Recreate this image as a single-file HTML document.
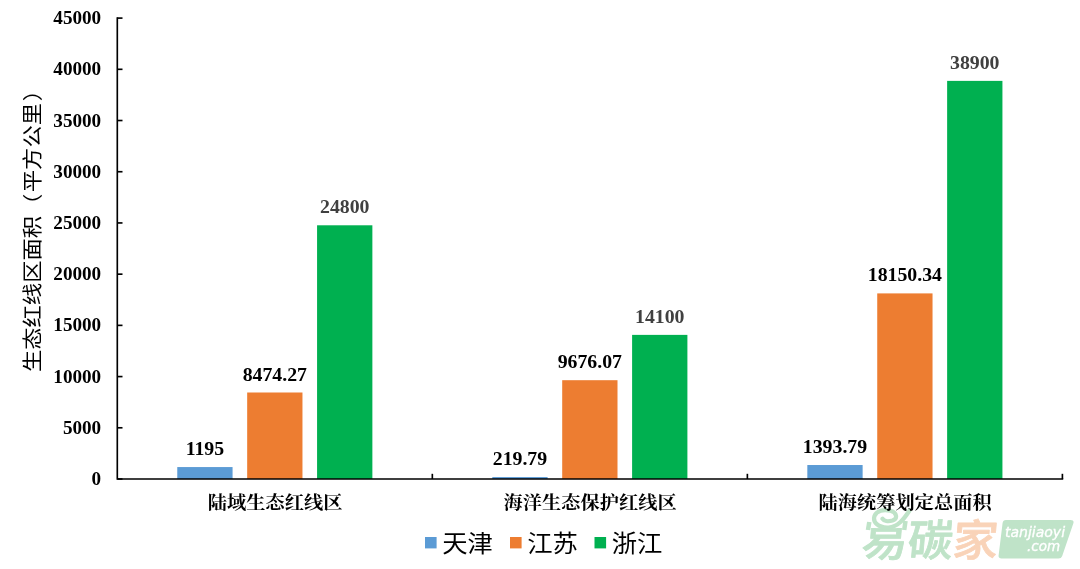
<!DOCTYPE html>
<html lang="zh-CN"><head><meta charset="utf-8"><title>生态红线区面积</title>
<style>
html,body{margin:0;padding:0;background:#fff;}
body{width:1080px;height:569px;overflow:hidden;position:relative;}
svg{position:absolute;left:0;top:0;display:block;}
.num{font-family:"Liberation Serif",serif;font-weight:bold;font-size:19.15px;}
.val{font-family:"Liberation Serif",serif;font-weight:bold;font-size:19.8px;}
.cat{font-family:"Liberation Serif","Noto Serif CJK SC",serif;font-weight:bold;font-size:19.25px;}
.leg{font-family:"Liberation Sans","Noto Sans CJK SC",sans-serif;font-size:25px;}
.ttl{font-family:"Liberation Sans","Noto Sans CJK SC",sans-serif;font-size:22.3px;}
.wm{font-family:"Liberation Sans","Noto Sans CJK SC",sans-serif;font-weight:500;font-size:43.5px;stroke-width:0.8;stroke-linejoin:round;}
.wt{font-family:"DejaVu Sans","Liberation Sans",sans-serif;font-style:oblique;fill:#fff;stroke:#fff;stroke-width:0.35;}
</style></head><body>
<svg width="1080" height="569" viewBox="0 0 1080 569">
<rect width="1080" height="569" fill="#fff"/>
<g id="watermark">
<defs><clipPath id="yiclip"><rect x="850" y="528" width="70" height="41"/></clipPath></defs>
<g transform="translate(0 558) skewX(-5) translate(0 -558)">
<g clip-path="url(#yiclip)"><text class="wm" x="860.5" y="556" fill="#bfe3c8" stroke="#bfe3c8" textLength="46" lengthAdjust="spacingAndGlyphs">易</text></g>
<text class="wm" x="906.5" y="556" fill="#bfe3c8" stroke="#bfe3c8" textLength="45" lengthAdjust="spacingAndGlyphs">碳</text>
<text class="wm" x="951.5" y="556" fill="#f9d3b8" stroke="#f9d3b8" textLength="45" lengthAdjust="spacingAndGlyphs">家</text>
</g>
<path d="M909.5 510.5 C904 519 898 527 888.5 527.5 C878 528 872.5 522 874.5 516 C876.5 510.5 884 509 890.5 510.8 C897 512.8 898 518.5 892.5 520.5 C888 522 884 521 882.5 518.8" fill="none" stroke="#bfe3c8" stroke-width="4.2" stroke-linecap="round"/>
<path d="M869.3 522 L868 530" fill="none" stroke="#bfe3c8" stroke-width="4.5"/>
<path d="M905.5 521 L904.2 530" fill="none" stroke="#bfe3c8" stroke-width="4.5"/>
<path d="M1006 520 H1070.5 Q1074.5 520 1073.3 523.5 L1062.2 556 Q1061.3 558.5 1058.5 558.5 H1001.5 Q998.2 558.5 998.6 555.5 L1002.6 523 Q1003 520 1006 520 Z" fill="#bfe3c8"/>
<text class="wt" x="1005" y="536.5" font-size="14">tanjiaoyi</text>
<text class="wt" x="1027" y="550.5" font-size="13.5">.com</text>
</g>
<g id="bars">
<rect x="177.27" y="467.06" width="55.30" height="11.94" fill="#5b9bd5"/>
<text class="val" x="204.92" y="455.06" text-anchor="middle" fill="#000">1195</text>
<rect x="247.17" y="392.50" width="55.30" height="86.50" fill="#ed7d31"/>
<text class="val" x="274.82" y="380.50" text-anchor="middle" fill="#000">8474.27</text>
<rect x="317.07" y="225.29" width="55.30" height="253.71" fill="#00b050"/>
<text class="val" x="344.72" y="213.29" text-anchor="middle" fill="#404040">24800</text>
<rect x="492.30" y="477.05" width="55.30" height="1.95" fill="#5b9bd5"/>
<text class="val" x="519.95" y="465.05" text-anchor="middle" fill="#000">219.79</text>
<rect x="562.20" y="380.20" width="55.30" height="98.80" fill="#ed7d31"/>
<text class="val" x="589.85" y="368.20" text-anchor="middle" fill="#000">9676.07</text>
<rect x="632.10" y="334.88" width="55.30" height="144.12" fill="#00b050"/>
<text class="val" x="659.75" y="322.88" text-anchor="middle" fill="#404040">14100</text>
<rect x="807.33" y="465.02" width="55.30" height="13.98" fill="#5b9bd5"/>
<text class="val" x="834.98" y="453.02" text-anchor="middle" fill="#000">1393.79</text>
<rect x="877.23" y="293.40" width="55.30" height="185.60" fill="#ed7d31"/>
<text class="val" x="904.88" y="281.40" text-anchor="middle" fill="#000">18150.34</text>
<rect x="947.13" y="80.88" width="55.30" height="398.12" fill="#00b050"/>
<text class="val" x="974.78" y="68.88" text-anchor="middle" fill="#404040">38900</text>
</g>
<g id="axes" stroke="#000" stroke-width="1.65" fill="none">
<path d="M117.30 17.28 V479.00 H1063.22"/>
<path d="M117.30 479.00 H122.50"/>
<path d="M117.30 427.79 H122.50"/>
<path d="M117.30 376.58 H122.50"/>
<path d="M117.30 325.37 H122.50"/>
<path d="M117.30 274.16 H122.50"/>
<path d="M117.30 222.94 H122.50"/>
<path d="M117.30 171.73 H122.50"/>
<path d="M117.30 120.52 H122.50"/>
<path d="M117.30 69.31 H122.50"/>
<path d="M117.30 18.10 H122.50"/>
<path d="M432.33 479.00 V473.80"/>
<path d="M747.37 479.00 V473.80"/>
<path d="M1062.40 479.00 V473.80"/>
</g>
<g id="ylabels">
<text class="num" x="101.2" y="485.10" text-anchor="end">0</text>
<text class="num" x="101.2" y="433.89" text-anchor="end">5000</text>
<text class="num" x="101.2" y="382.68" text-anchor="end">10000</text>
<text class="num" x="101.2" y="331.47" text-anchor="end">15000</text>
<text class="num" x="101.2" y="280.26" text-anchor="end">20000</text>
<text class="num" x="101.2" y="229.04" text-anchor="end">25000</text>
<text class="num" x="101.2" y="177.83" text-anchor="end">30000</text>
<text class="num" x="101.2" y="126.62" text-anchor="end">35000</text>
<text class="num" x="101.2" y="75.41" text-anchor="end">40000</text>
<text class="num" x="101.2" y="24.20" text-anchor="end">45000</text>
</g>
<g id="xlabels">
<text class="cat" transform="translate(275.12 509.3) scale(1 0.93)" x="0" y="0" text-anchor="middle">陆域生态红线区</text>
<text class="cat" transform="translate(590.15 509.3) scale(1 0.93)" x="0" y="0" text-anchor="middle">海洋生态保护红线区</text>
<text class="cat" transform="translate(905.18 509.3) scale(1 0.93)" x="0" y="0" text-anchor="middle">陆海统筹划定总面积</text>
</g>
<text class="ttl" transform="translate(39.8 372) rotate(-90) scale(1 0.9)" x="0" y="0">生态红线区面积<tspan dx="0">（</tspan><tspan dx="1.5">平</tspan>方公里<tspan dx="1.7">）</tspan></text>
<g id="legend">
<rect x="425.0" y="537" width="11.6" height="11.4" fill="#5b9bd5"/>
<text class="leg" transform="translate(442.2 551.7) scale(1.015 0.95)" x="0" y="0">天津</text>
<rect x="510.0" y="537" width="11.6" height="11.4" fill="#ed7d31"/>
<text class="leg" transform="translate(527.2 551.7) scale(1.015 0.95)" x="0" y="0">江苏</text>
<rect x="594.5" y="537" width="11.6" height="11.4" fill="#00b050"/>
<text class="leg" transform="translate(611.7 551.7) scale(1.015 0.95)" x="0" y="0">浙江</text>
</g>
</svg></body></html>
